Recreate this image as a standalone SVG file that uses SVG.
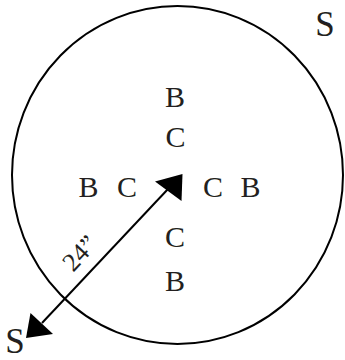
<svg xmlns="http://www.w3.org/2000/svg" width="345" height="360" viewBox="0 0 345 360">
<style>
.t{font-family:"Liberation Serif","Times New Roman",serif;fill:#231f20;text-anchor:middle}
.l{font-size:30px}
.s{font-size:35px}
</style>
<rect width="345" height="360" fill="#fff"/>
<g id="circle"><ellipse cx="177.5" cy="175" rx="165.5" ry="169" fill="none" stroke="#000" stroke-width="2"/></g>
<g id="labels">
<text class="t l" x="175" y="106.5">B</text>
<text class="t l" x="175.5" y="147">C</text>
<text class="t l" x="88.5" y="197">B</text>
<text class="t l" x="127" y="197">C</text>
<text class="t l" x="213" y="197">C</text>
<text class="t l" x="250.5" y="197">B</text>
<text class="t l" x="175" y="247">C</text>
<text class="t l" x="175" y="291">B</text>
<text class="t s" x="325" y="36">S</text>
<text class="t s" x="15" y="353">S</text>
</g>
<g id="connectors">
<line x1="42" y1="323" x2="168" y2="189" stroke="#000" stroke-width="2"/>
<polygon points="182.5,174 155,181.5 181.5,201" fill="#000"/>
<polygon points="26,338 30.5,313 53,334" fill="#000"/>
<text class="t" font-size="26" transform="translate(86,259) rotate(-47)">24”</text>
</g>
</svg>
